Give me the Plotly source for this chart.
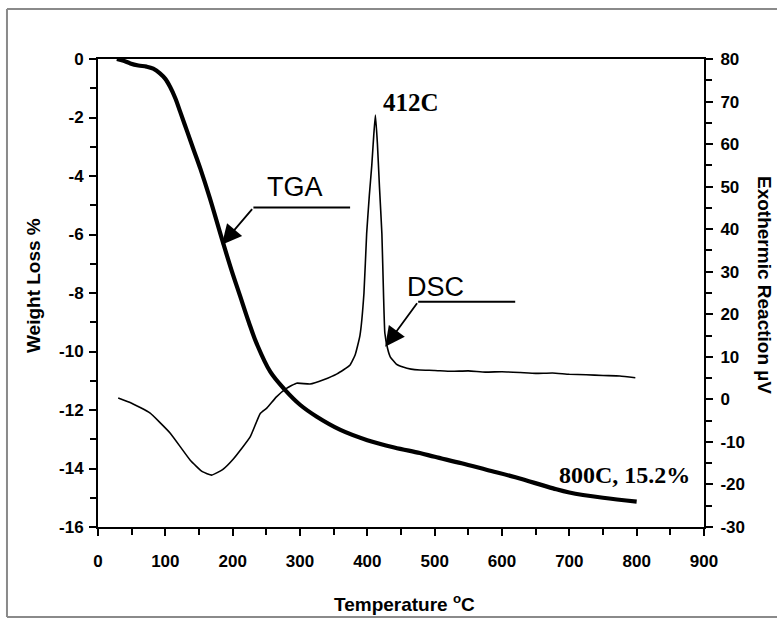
import plotly.graph_objects as go

# TGA (weight loss %, left axis)
tga_temp = [28, 38, 48, 60, 72, 82, 92, 100, 107, 115, 122, 132, 142, 152, 166, 184, 198, 211, 224, 236,
            256, 278, 300, 325, 360, 400, 440, 478, 500, 540, 578, 620, 676, 700, 750, 800]
tga_val = [0, -0.06, -0.15, -0.22, -0.26, -0.33, -0.49, -0.68, -0.95, -1.35, -1.8, -2.45, -3.1, -3.75,
           -4.75, -6.15, -7.2, -8.1, -9.0, -9.75, -10.7, -11.32, -11.82, -12.23, -12.68, -13.03, -13.28,
           -13.47, -13.6, -13.82, -14.05, -14.3, -14.68, -14.82, -15.0, -15.13]

# DSC (exothermic reaction µV, right axis)
dsc_temp = [30, 50, 77, 107, 137, 155, 169, 185, 201, 226, 241, 251, 265, 280, 295, 315, 335, 355, 374,
            382, 389, 395, 399, 403, 406.6, 409.5, 412, 415, 418, 421.6, 424, 426, 430, 434, 443, 453,
            465, 478, 500, 525, 550, 575, 600, 627, 650, 675, 700, 725, 750, 775, 798]
dsc_val = [0.3, -0.9, -3.2, -7.9, -14.3, -17.0, -17.8, -16.5, -14.0, -8.8, -3.3, -2.0, 0.6, 2.6, 3.8, 3.6,
           4.6, 6.0, 8.0, 10.5, 15.0, 25.0, 39.0, 48.0, 55.0, 62.0, 66.8, 60.0, 50.0, 39.0, 25.0, 15.6,
           12.0, 10.0, 8.3, 7.6, 7.1, 6.9, 6.8, 6.6, 6.7, 6.4, 6.5, 6.3, 6.1, 6.2, 5.9, 5.8, 5.6, 5.5, 5.1]

x_ticks = list(range(0, 1000, 100))
y_ticks = list(range(-16, 2, 2))
y2_ticks = list(range(-30, 90, 10))

SANS = "Liberation Sans, Arial, sans-serif"
SERIF = "Liberation Serif, Times New Roman, serif"


def bold_labels(vals):
    return ["<b>%d</b>" % v for v in vals]


fig = go.Figure()
fig.add_trace(go.Scatter(x=tga_temp, y=tga_val, mode="lines",
                         line=dict(color="black", width=4.2, shape="spline", smoothing=1.0),
                         showlegend=False, hoverinfo="skip"))
fig.add_trace(go.Scatter(x=dsc_temp, y=dsc_val, mode="lines", yaxis="y2",
                         line=dict(color="black", width=1.6, shape="spline", smoothing=0.4),
                         showlegend=False, hoverinfo="skip"))

tick_font = dict(family=SANS, size=17, color="black")
axis_common = dict(showgrid=False, zeroline=False, showline=True, linecolor="black", linewidth=2,
                   ticks="outside", ticklen=7, tickwidth=2, tickcolor="black", tickfont=tick_font)

fig.update_layout(
    width=777, height=620, autosize=False,
    margin=dict(l=98, r=73, t=59, b=93),
    paper_bgcolor="white", plot_bgcolor="white",
    xaxis=dict(range=[0, 900], tickvals=x_ticks, ticktext=bold_labels(x_ticks), mirror=True, ticklabelstandoff=11,
               minor=dict(dtick=50, ticks="outside", ticklen=6, tickwidth=2, tickcolor="black"), **axis_common),
    yaxis=dict(range=[-16, 0], tickvals=y_ticks, ticktext=bold_labels(y_ticks), ticklabelstandoff=2,
               minor=dict(dtick=1, ticks="outside", ticklen=6, tickwidth=2, tickcolor="black"), **axis_common),
    yaxis2=dict(range=[-30, 80], tickvals=y2_ticks, ticktext=bold_labels(y2_ticks), overlaying="y", side="right",
                ticklabelstandoff=4,
                minor=dict(dtick=5, ticks="outside", ticklen=6, tickwidth=2, tickcolor="black"), **axis_common),
)

annotations = [
    dict(text="<b>Weight Loss %</b>", xref="paper", yref="paper", x=-0.1073, y=0.517, textangle=-90,
         showarrow=False, xanchor="center", yanchor="middle",
         font=dict(family=SANS, size=19, color="black")),
    dict(text="<b>Exothermic Reaction µV</b>", xref="paper", yref="paper", x=1.1007, y=0.517, textangle=90,
         showarrow=False, xanchor="center", yanchor="middle",
         font=dict(family=SANS, size=19, color="black")),
    dict(text="<b>Temperature <sup>o</sup>C</b>", xref="paper", yref="paper", x=0.505, y=-0.1624,
         showarrow=False, xanchor="center", yanchor="middle",
         font=dict(family=SANS, size=19, color="black")),
    dict(text="<b>412C</b>", x=465, y=-1.5, xref="x", yref="y", showarrow=False,
         font=dict(family=SERIF, size=25, color="black")),
    dict(text="<b>800C, 15.2%</b>", x=781.6, y=-14.22, xref="x", yref="y", showarrow=False,
         font=dict(family=SERIF, size=24, color="black")),
    dict(text="TGA", x=292.7, y=-4.38, xref="x", yref="y", showarrow=False,
         font=dict(family=SANS, size=27, color="black")),
    dict(text="DSC", x=500.7, y=-7.79, xref="x", yref="y", showarrow=False,
         font=dict(family=SANS, size=27, color="black")),
    # pointer arrows
    dict(text="", x=183.8, y=-6.35, xref="x", yref="y", ax=230.8, ay=-5.08, axref="x", ayref="y",
         showarrow=True, arrowhead=2, arrowsize=2.2, arrowwidth=1.8, arrowcolor="black", standoff=0),
    dict(text="", x=426.4, y=-9.84, xref="x", yref="y", ax=475.5, ay=-8.30, axref="x", ayref="y",
         showarrow=True, arrowhead=2, arrowsize=2.2, arrowwidth=1.8, arrowcolor="black", standoff=0),
]
fig.update_layout(annotations=annotations)

frame = dict(color="#8a8a8a", width=2)
fig.update_layout(shapes=[
    dict(type="line", xref="x", yref="y", x0=230.8, y0=-5.08, x1=374.4, y1=-5.08, line=dict(color="black", width=2)),
    dict(type="line", xref="x", yref="y", x0=475.5, y0=-8.30, x1=619.6, y1=-8.30, line=dict(color="black", width=2)),
    # outer frame (left, top, bottom edges visible in the original)
    dict(type="line", xref="paper", yref="paper", x0=-0.1502, y0=-0.1923, x1=-0.1502, y1=1.1068, line=frame, layer="below"),
    dict(type="line", xref="paper", yref="paper", x0=-0.1502, y0=1.1068, x1=1.15, y1=1.1068, line=frame, layer="below"),
    dict(type="line", xref="paper", yref="paper", x0=-0.1502, y0=-0.1923, x1=1.15, y1=-0.1923, line=frame, layer="below"),
])

fig.write_html("out.html")
